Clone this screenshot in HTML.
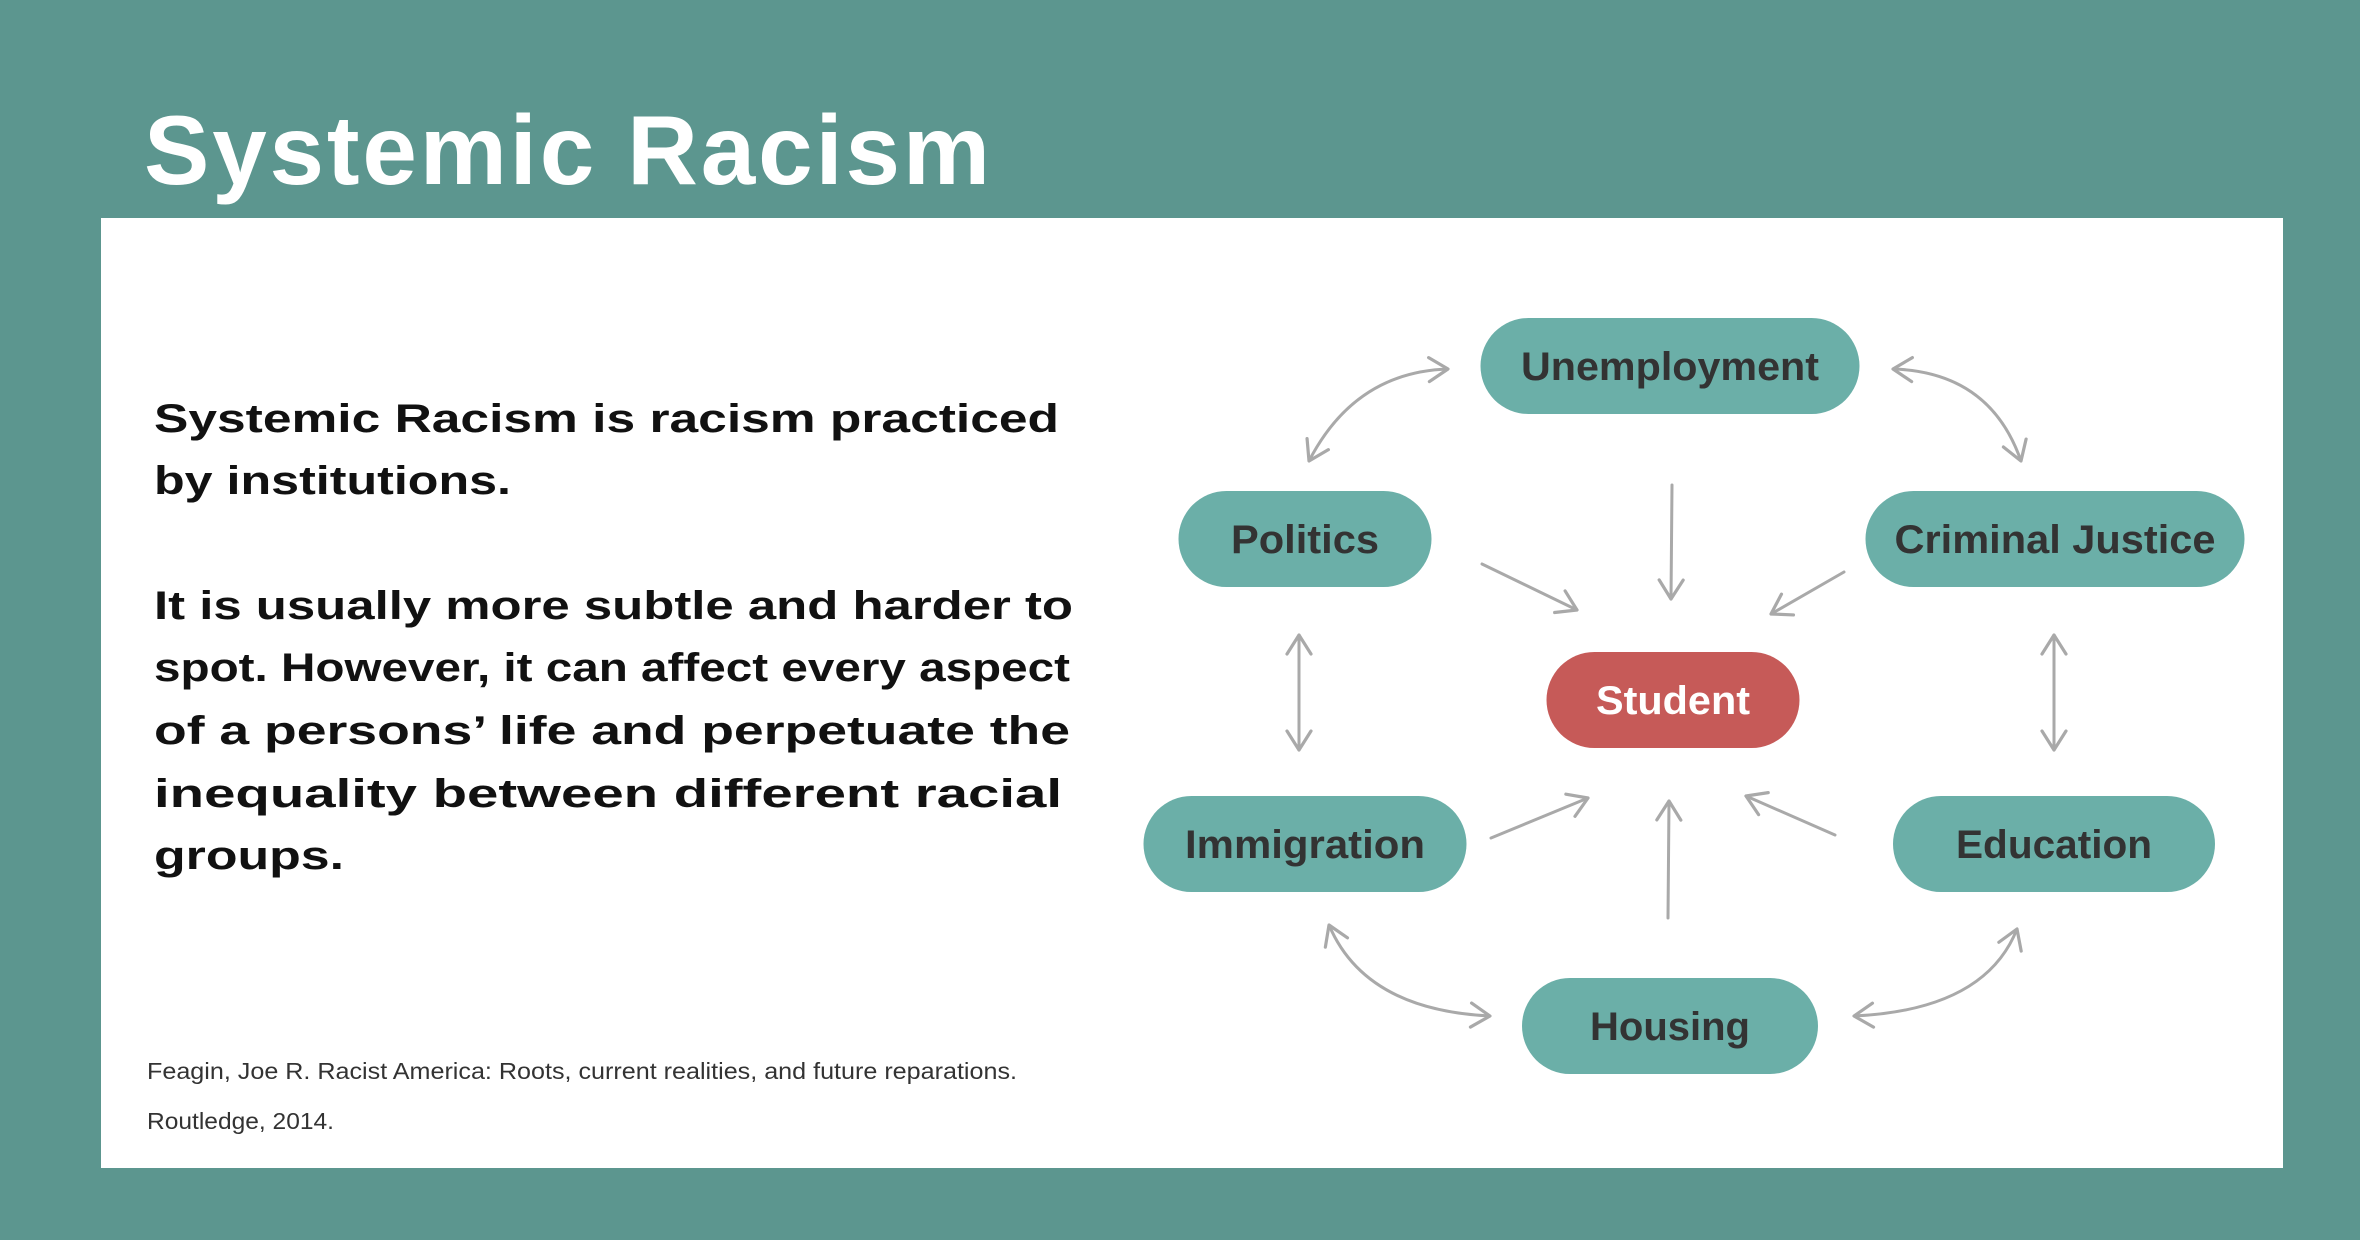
<!DOCTYPE html>
<html><head><meta charset="utf-8"><style>
html,body{margin:0;padding:0;background:#5c968f;}
svg{display:block;}
</style></head><body>
<svg id="chart" xmlns="http://www.w3.org/2000/svg" width="2360" height="1240" viewBox="0 0 2360 1240">
<defs>
<marker id="ah" viewBox="-24 -14 28 28" markerWidth="28" markerHeight="28" refX="0" refY="0" orient="auto-start-reverse" markerUnits="userSpaceOnUse">
<path d="M-19,-12 L0,0 L-19,12" fill="none" stroke="#a9a9a9" stroke-width="3.2" stroke-linecap="round" stroke-linejoin="round"/>
</marker>
</defs>
<rect x="0" y="0" width="2360" height="1240" fill="#5c968f"/>
<text x="144" y="184" font-family="Liberation Sans, sans-serif" font-weight="bold" font-size="98" fill="#fff" textLength="846" lengthAdjust="spacing">Systemic Racism</text>
<rect x="101" y="218" width="2182" height="950" fill="#fff"/>
<g font-family="Liberation Sans, sans-serif" font-weight="bold" font-size="40" fill="#111">
<text x="154" y="432" textLength="905" lengthAdjust="spacingAndGlyphs">Systemic Racism is racism practiced</text>
<text x="154" y="494" textLength="357" lengthAdjust="spacingAndGlyphs">by institutions.</text>
<text x="154" y="619" textLength="919" lengthAdjust="spacingAndGlyphs">It is usually more subtle and harder to</text>
<text x="154" y="681" textLength="916" lengthAdjust="spacingAndGlyphs">spot. However, it can affect every aspect</text>
<text x="154" y="744" textLength="916" lengthAdjust="spacingAndGlyphs">of a persons’ life and perpetuate the</text>
<text x="154" y="807" textLength="908" lengthAdjust="spacingAndGlyphs">inequality between different racial</text>
<text x="154" y="869" textLength="190" lengthAdjust="spacingAndGlyphs">groups.</text>
</g>
<g font-family="Liberation Sans, sans-serif" font-size="23" fill="#333">
<text x="147" y="1079" textLength="870" lengthAdjust="spacingAndGlyphs">Feagin, Joe R. Racist America: Roots, current realities, and future reparations.</text>
<text x="147" y="1129" textLength="187" lengthAdjust="spacingAndGlyphs">Routledge, 2014.</text>
</g>
<g id="arrows"></g>
<g id="nodes"></g>
<script>
const nodeLabels = ["Unemployment","Politics","Criminal Justice","Student","Immigration","Education","Housing"];
const nodeCenterX = [1670,1305,2055,1673,1305,2054,1670];
const nodeCenterY = [366,539,539,700,844,844,1026];
const nodeWidth = [379,253,379,253,323,322,296];
const nodeTextWidth = [298,148,321,154,240,196,160];
const nodeKind = ["teal","teal","teal","red","teal","teal","teal"];
const straightArrows = [[1672,485,1671,599,0],[1482,564,1577,610,0],[1844,572,1771,614,0],[1491,838,1588,798,0],[1668,918,1669,801,0],[1835,835,1746,796,0],[1299,635,1299,750,1],[2054,635,2054,750,1]];
const curvedArrows = [[1448,369,1355,372,1309,461],[1893,369,1990,372,2021,461],[1329,925,1365,1010,1490,1016],[2017,929,1985,1010,1854,1016]];
const NS="http://www.w3.org/2000/svg";
const ag=document.getElementById('arrows');
straightArrows.forEach(a=>{
  const l=document.createElementNS(NS,'line');
  
  
  l.setAttribute('x1',a[0]);l.setAttribute('y1',a[1]);l.setAttribute('x2',a[2]);l.setAttribute('y2',a[3]);
  l.setAttribute('stroke','#a9a9a9');l.setAttribute('stroke-width','3');l.setAttribute('stroke-linecap','round');
  l.setAttribute('marker-end','url(#ah)');
  if(a[4])l.setAttribute('marker-start','url(#ah)');
  ag.appendChild(l);
});
curvedArrows.forEach(c=>{
  const p=document.createElementNS(NS,'path');
  
  
  p.setAttribute('d',`M${c[0]},${c[1]} Q${c[2]},${c[3]} ${c[4]},${c[5]}`);
  p.setAttribute('fill','none');p.setAttribute('stroke','#a9a9a9');p.setAttribute('stroke-width','3');
  p.setAttribute('marker-start','url(#ah)');p.setAttribute('marker-end','url(#ah)');
  ag.appendChild(p);
});
const ng=document.getElementById('nodes');
nodeLabels.forEach((lab,i)=>{
  const h=96,w=nodeWidth[i];
  const r=document.createElementNS(NS,'rect');
  
  
  r.setAttribute('x',nodeCenterX[i]-w/2);r.setAttribute('y',nodeCenterY[i]-h/2);
  r.setAttribute('width',w);r.setAttribute('height',h);r.setAttribute('rx',48);
  r.setAttribute('fill',nodeKind[i]==='red'?'#c65a58':'#6bafa8');
  ng.appendChild(r);
  const t=document.createElementNS(NS,'text');
  
  
  t.setAttribute('x',nodeCenterX[i]);t.setAttribute('y',nodeCenterY[i]+14);
  t.setAttribute('text-anchor','middle');
  t.setAttribute('font-family','Liberation Sans, sans-serif');
  t.setAttribute('font-weight','bold');
  t.setAttribute('font-size','40');
  t.setAttribute('fill',nodeKind[i]==='red'?'#fff':'#333');
  t.setAttribute('textLength',nodeTextWidth[i]);
  t.setAttribute('lengthAdjust','spacingAndGlyphs');
  t.textContent=lab;
  ng.appendChild(t);
});
</script>
</svg>
</body></html>
